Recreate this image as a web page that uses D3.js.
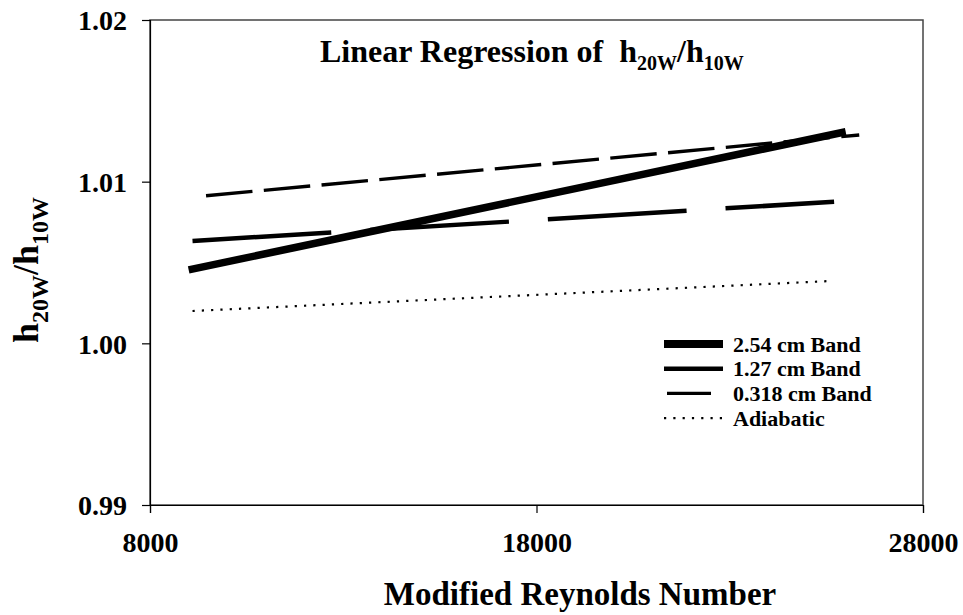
<!DOCTYPE html>
<html>
<head>
<meta charset="utf-8">
<script src="https://cdn.jsdelivr.net/npm/d3@7"></script>
<style>
  html, body { margin: 0; padding: 0; background: #fff; }
  svg text { font-family: "Liberation Serif", "Times New Roman", serif; font-weight: bold; fill: #000; }
</style>
</head>
<body>
<svg id="chart" width="963" height="615"></svg>
<script>
// Regression lines of h20W/h10W versus modified Reynolds number
const seriesNames = ["2.54 cm Band", "1.27 cm Band", "0.318 cm Band", "Adiabatic"];
const reStart = [9000, 9100, 9450, 9100];
const reEnd = [26000, 25700, 26350, 25650];
const ratioStart = [1.00454, 1.00633, 1.00913, 1.00200];
const ratioEnd = [1.01309, 1.00876, 1.01289, 1.00386];

const xTicks = [8000, 18000, 28000];
const yTicks = [0.99, 1.00, 1.01, 1.02];

// line appearance for each series, in the same order
const lineStyles = [
  { width: 7.5, dash: null },
  { width: 4.5, dash: "139,39" },
  { width: 3.4, dash: "46.6,11.4" },
  { width: 2.2, dash: "2.2,7.1" }
];

const svg = d3.select("#chart");
const margin = { left: 150, right: 40, top: 20, bottom: 110 };
const W = 963, H = 615;

const x = d3.scaleLinear().domain([8000, 28000]).range([margin.left, W - margin.right]);
const y = d3.scaleLinear().domain([0.99, 1.02]).range([H - margin.bottom, margin.top]);

// plot frame
svg.append("rect")
  .attr("x", x(8000)).attr("y", y(1.02))
  .attr("width", x(28000) - x(8000)).attr("height", y(0.99) - y(1.02))
  .attr("fill", "none").attr("stroke", "#444").attr("stroke-width", 1.5);

// axes
const xAxis = d3.axisBottom(x).tickValues(xTicks).tickSize(8).tickFormat(d3.format("d"));
const yAxis = d3.axisLeft(y).tickValues(yTicks).tickSize(8).tickFormat(d3.format(".2f"));

const gx = svg.append("g").attr("transform", `translate(0,${y(0.99)})`).call(xAxis);
const gy = svg.append("g").attr("transform", `translate(${x(8000)},0)`).call(yAxis);

[gx, gy].forEach(g => {
  g.select(".domain").attr("stroke", "#000").attr("stroke-width", 1.2);
  g.selectAll(".tick line").attr("stroke", "#000").attr("stroke-width", 1.2);
  g.selectAll(".tick text")
    .attr("fill", "#000")
    .style("font-family", '"Liberation Serif", serif')
    .style("font-weight", "bold")
    .style("font-size", "28px");
});
gx.selectAll(".tick text").attr("y", 27).attr("dy", "0.71em");
gy.selectAll(".tick text").attr("x", -23).attr("dy", "0.35em");

// regression lines
const rows = seriesNames.map((name, i) => ({
  name,
  pts: [[reStart[i], ratioStart[i]], [reEnd[i], ratioEnd[i]]],
  style: lineStyles[i]
}));

const line = d3.line().x(d => x(d[0])).y(d => y(d[1]));

svg.append("g").selectAll("path")
  .data(rows)
  .join("path")
  .attr("d", d => line(d.pts))
  .attr("fill", "none")
  .attr("stroke", "#000")
  .attr("stroke-width", d => d.style.width)
  .attr("stroke-dasharray", d => d.style.dash)
  .attr("stroke-linecap", "butt");

// legend
const legend = svg.append("g").attr("transform", "translate(664,344)");
const rowGap = 24.7;
rows.forEach((d, i) => {
  const g = legend.append("g").attr("transform", `translate(0,${i * rowGap})`);
  g.append("line")
    .attr("x1", i === 2 ? 3 : 0).attr("x2", i === 2 ? 47 : 59)
    .attr("y1", 0).attr("y2", 0)
    .attr("stroke", "#000")
    .attr("stroke-width", i === 0 ? 8 : d.style.width)
    .attr("stroke-dasharray", i === 3 ? d.style.dash : null);
  g.append("text")
    .attr("x", 69).attr("y", 0).attr("dy", "0.35em")
    .style("font-size", "22px")
    .text(d.name);
});

// chart title with subscripts
const title = svg.append("text")
  .attr("x", 320).attr("y", 62)
  .style("font-size", "32px")
  .style("white-space", "pre");
title.append("tspan").text("Linear Regression of  h");
title.append("tspan").attr("dy", 8).style("font-size", "20px").text("20W");
title.append("tspan").attr("dy", -8).text("/h");
title.append("tspan").attr("dy", 8).style("font-size", "20px").text("10W");

// y-axis title
const yt = svg.append("text")
  .attr("transform", "translate(38,270) rotate(-90)")
  .attr("text-anchor", "middle")
  .style("font-size", "36px");
yt.append("tspan").text("h");
yt.append("tspan").attr("dy", 10).style("font-size", "24px").text("20W");
yt.append("tspan").attr("dy", -10).text("/h");
yt.append("tspan").attr("dy", 10).style("font-size", "24px").text("10W");

// x-axis title
svg.append("text")
  .attr("x", 580).attr("y", 605)
  .attr("text-anchor", "middle")
  .style("font-size", "33px")
  .text("Modified Reynolds Number");
</script>
</body>
</html>
